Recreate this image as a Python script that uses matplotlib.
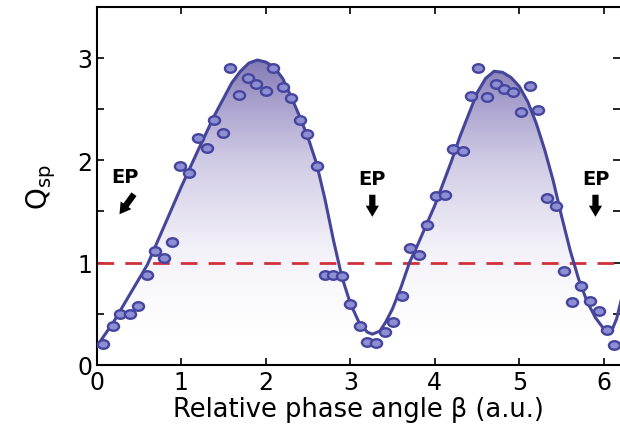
import matplotlib
matplotlib.use('Agg')
import matplotlib.pyplot as plt
import numpy as np
from matplotlib.colors import LinearSegmentedColormap
from matplotlib.path import Path
from matplotlib.transforms import Affine2D

# measured points (beta, Q_sp)
beta_pts = [0.07, 0.19, 0.28, 0.39, 0.49, 0.59, 0.69, 0.79, 0.89, 0.98, 1.09,
            1.20, 1.30, 1.39, 1.49, 1.58, 1.68, 1.79, 1.89, 2.00, 2.09, 2.20,
            2.30, 2.41, 2.49, 2.61, 2.70, 2.80, 2.90, 3.00, 3.11, 3.20, 3.30,
            3.41, 3.51, 3.61, 3.70, 3.81, 3.91, 4.01, 4.12, 4.22, 4.33, 4.43,
            4.51, 4.62, 4.72, 4.82, 4.92, 5.02, 5.12, 5.22, 5.33, 5.43, 5.53,
            5.62, 5.73, 5.84, 5.94, 6.04, 6.12]
q_pts = [0.20, 0.38, 0.50, 0.50, 0.58, 0.88, 1.11, 1.04, 1.20, 1.94, 1.88,
         2.22, 2.12, 2.39, 2.27, 2.90, 2.64, 2.80, 2.75, 2.68, 2.90, 2.72,
         2.61, 2.39, 2.26, 1.94, 0.88, 0.88, 0.87, 0.59, 0.38, 0.22, 0.21,
         0.32, 0.42, 0.67, 1.14, 1.07, 1.37, 1.65, 1.66, 2.11, 2.09, 2.63,
         2.90, 2.62, 2.75, 2.70, 2.67, 2.47, 2.73, 2.49, 1.63, 1.55, 0.92,
         0.61, 0.77, 0.62, 0.53, 0.34, 0.19]

# fitted curve
beta_fit = [0.0, 0.2, 0.4, 0.6, 0.8, 1.0, 1.2, 1.4, 1.6, 1.7, 1.8, 1.9, 2.0,
            2.1, 2.2, 2.3, 2.4, 2.5, 2.6, 2.7, 2.8, 2.9, 3.0, 3.1, 3.2, 3.26,
            3.35, 3.42, 3.5, 3.6, 3.7, 3.8, 3.9, 4.0, 4.1, 4.2, 4.3, 4.4, 4.5,
            4.6, 4.7, 4.8, 4.9, 5.0, 5.1, 5.2, 5.3, 5.4, 5.5, 5.6, 5.7, 5.8,
            5.9, 6.0, 6.05, 6.1, 6.15, 6.2]
q_fit = [0.18, 0.42, 0.70, 0.98, 1.36, 1.74, 2.10, 2.45, 2.76, 2.87, 2.95,
         2.98, 2.96, 2.91, 2.80, 2.62, 2.43, 2.22, 1.97, 1.62, 1.22, 0.86,
         0.60, 0.42, 0.32, 0.30, 0.33, 0.42, 0.55, 0.76, 1.00, 1.18, 1.37,
         1.56, 1.78, 2.00, 2.24, 2.45, 2.66, 2.80, 2.87, 2.86, 2.81, 2.72,
         2.57, 2.36, 2.10, 1.80, 1.45, 1.12, 0.84, 0.62, 0.46, 0.35, 0.32,
         0.35, 0.45, 0.62]

ep_beta = [0.33, 3.26, 5.90]
threshold = 1.0

plt.rcParams['font.family'] = ['DejaVu Sans']

fig = plt.figure(figsize=(6.2, 4.35), dpi=100)
ax = fig.add_axes([0.156, 0.159, 0.844, 0.823])
xmax = 6.19
ax.set_xlim(0, xmax)
ax.set_ylim(0, 3.5)

line_col = '#45459a'

# gradient fill under the fit
cmap = LinearSegmentedColormap.from_list('grad', [(0.0, '#ffffff'), (0.3, '#f4f2f9'),
                                                  (0.63, '#d0cbe5'), (0.85, '#a69ecb'),
                                                  (1.0, '#8078b2')])
grad = np.linspace(0, 1, 256).reshape(-1, 1)
im = ax.imshow(grad, extent=[0, xmax, 0.3, 3.0], origin='lower', aspect='auto',
               cmap=cmap, zorder=1)
poly = ax.fill_between(beta_fit, q_fit, 0, color='none', lw=0)
clip = poly.get_paths()[0]
im.set_clip_path(clip, transform=ax.transData)

ax.plot(beta_fit, q_fit, color=line_col, lw=2.2, zorder=3)
ax.axhline(threshold, color='#d0303a', lw=2, dashes=(6, 4), zorder=2)

# slightly wide ellipse markers like the original
ell = Path.unit_circle().transformed(Affine2D().scale(1.3, 1.0))
ax.plot(beta_pts, q_pts, marker=ell, ls='none', ms=8, mfc='#8e8ed2', mec='#4545a0',
        mew=1.7, zorder=4, clip_on=False)

# EP markers
arrow_style = 'simple,head_width=0.95,head_length=0.8,tail_width=0.45'
ax.text(ep_beta[0], 1.84, 'EP', ha='center', va='center', fontsize=14,
        fontweight='bold')
ax.annotate('', xy=(0.25, 1.45), xytext=(0.46, 1.69),
            arrowprops=dict(arrowstyle=arrow_style, color='black', lw=0))
for b in ep_beta[1:]:
    ax.text(b, 1.82, 'EP', ha='center', va='center', fontsize=14,
            fontweight='bold')
    ax.annotate('', xy=(b, 1.42), xytext=(b, 1.69),
                arrowprops=dict(arrowstyle=arrow_style, color='black', lw=0))

ax.set_xticks(range(0, 7))
ax.set_yticks([0, 1, 2, 3])
ax.set_yticks([0.5, 1.5, 2.5], minor=True)
ax.tick_params(which='both', direction='in', top=True, right=True, length=5,
               width=1.2, labelsize=17)
ax.tick_params(axis='x', pad=4)
ax.tick_params(axis='y', pad=3)
ax.spines['right'].set_visible(False)
for s in ['left', 'bottom', 'top']:
    ax.spines[s].set_linewidth(1.5)

ax.set_xlabel('Relative phase angle β (a.u.)', fontsize=18.5, labelpad=1)
ax.set_ylabel(r'$\mathregular{Q_{sp}}$', fontsize=20, labelpad=14)

fig.savefig('out.png', dpi=100)
